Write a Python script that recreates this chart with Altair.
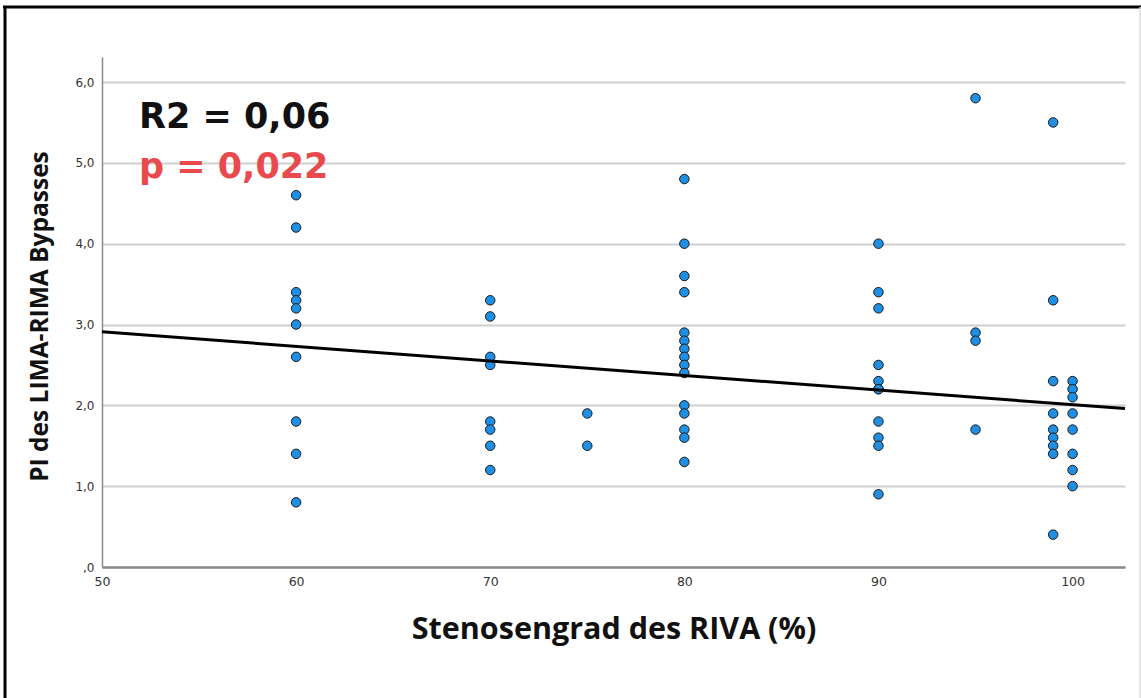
import altair as alt
import pandas as pd

# Stenosis grade of the RIVA (%) and PI of the LIMA/RIMA bypass, grouped by grade
pi_60 = [4.6, 4.2, 3.4, 3.3, 3.2, 3.0, 2.6, 1.8, 1.4, 0.8]
pi_70 = [3.3, 3.1, 2.6, 2.5, 1.8, 1.7, 1.5, 1.2]
pi_75 = [1.9, 1.5]
pi_80 = [4.8, 4.0, 3.6, 3.4, 2.9, 2.8, 2.7, 2.6, 2.5, 2.4, 2.0, 1.9, 1.7, 1.6, 1.3]
pi_90 = [4.0, 3.4, 3.2, 2.5, 2.3, 2.2, 2.2, 1.8, 1.6, 1.5, 0.9]
pi_95 = [5.8, 2.9, 2.8, 1.7]
pi_99 = [5.5, 3.3, 2.3, 1.9, 1.7, 1.6, 1.5, 1.4, 0.4]
pi_100 = [2.3, 2.2, 2.1, 1.9, 1.7, 1.4, 1.2, 1.0]

groups = {60: pi_60, 70: pi_70, 75: pi_75, 80: pi_80, 90: pi_90,
          95: pi_95, 99: pi_99, 100: pi_100}

# Linear fit line (end points)
fit_x = [50.0, 102.7]
fit_y = [2.91, 1.96]

x_ticks = [50, 60, 70, 80, 90, 100]
y_ticks = [0, 1, 2, 3, 4, 5, 6]

r2_text = "R2 = 0,06"
p_text = "p = 0,022"

points = pd.DataFrame(
    [{"stenose": k, "pi": v} for k, vals in groups.items() for v in vals]
)
fit = pd.DataFrame({"stenose": fit_x, "pi": fit_y})

W, H = 1023, 510
x_scale = alt.Scale(domain=[50, 102.7], nice=False, zero=False)
y_scale = alt.Scale(domain=[0, 6.31], nice=False)

x_enc = alt.X(
    "stenose:Q", scale=x_scale,
    axis=alt.Axis(
        values=x_ticks, grid=False, ticks=False, domainColor="#8a8a8a",
        domainWidth=2.5, labelFont="DejaVu Sans", labelFontSize=12.5,
        labelColor="#333333", labelPadding=8, labelFlush=False,
        title="Stenosengrad des RIVA (%)", titleFont="Open Sans",
        titleFontSize=30.5, titleFontWeight="bold", titleColor="#111111",
        titleX=W / 2, titleY=71, titleBaseline="alphabetic",
    ),
)
y_enc = alt.Y(
    "pi:Q", scale=y_scale,
    axis=alt.Axis(
        values=y_ticks, grid=True, gridColor="#cfcfcf", gridWidth=2,
        ticks=False, domainColor="#8a8a8a", domainWidth=1.5,
        labelFont="DejaVu Sans", labelFontSize=12, labelColor="#333333",
        labelPadding=8, labelFlush=False,
        labelExpr="datum.value == 0 ? ',0' : replace(format(datum.value, '.1f'), '.', ',')",
        title="PI des LIMA-RIMA Bypasses", titleFont="Open Sans",
        titleFontSize=24.5, titleFontWeight="bold", titleColor="#111111",
        titleAngle=270, titleX=-62, titleY=H / 2 + 4, titleBaseline="middle",
        titleAlign="center",
    ),
)

scatter = alt.Chart(points).mark_point(
    shape="circle", filled=True, size=90, fill="#1f8fe5",
    stroke="#1a1a1a", strokeWidth=1, opacity=1,
).encode(x=x_enc, y=y_enc)

line = alt.Chart(fit).mark_line(color="black", strokeWidth=3).encode(
    x=alt.X("stenose:Q", scale=x_scale),
    y=alt.Y("pi:Q", scale=y_scale),
)

one = pd.DataFrame({"a": [0]})


def stat_label(text, color, baseline_y):
    return alt.Chart(one).mark_text(
        text=text, font="DejaVu Sans", fontSize=35, fontWeight="bold",
        align="left", baseline="alphabetic", color=color,
    ).encode(x=alt.value(37), y=alt.value(baseline_y))


r2_label = stat_label(r2_text, "#111111", 71)
p_label = stat_label(p_text, "#e84a4d", 121)

# Outer frame of the figure
frame_top = alt.Chart(one).mark_rule(color="black", strokeWidth=3).encode(
    x=alt.value(-99), x2=alt.value(W + 16), y=alt.value(-50))
frame_left = alt.Chart(one).mark_rule(color="black", strokeWidth=3).encode(
    x=alt.value(-97), y=alt.value(-51), y2=alt.value(H + 135))
frame_right = alt.Chart(one).mark_rule(color="#dddddd", strokeWidth=1.5).encode(
    x=alt.value(W + 15), y=alt.value(-50), y2=alt.value(H + 135))

chart = alt.layer(
    scatter, line, r2_label, p_label, frame_top, frame_left, frame_right
).properties(
    width=W, height=H,
    background="white",
    autosize=alt.AutoSizeParams(type="none"),
    padding={"left": 102, "top": 57, "right": 16, "bottom": 131},
).configure_view(stroke=None)

chart.save("out.html", embed_options={"renderer": "svg", "actions": False})
